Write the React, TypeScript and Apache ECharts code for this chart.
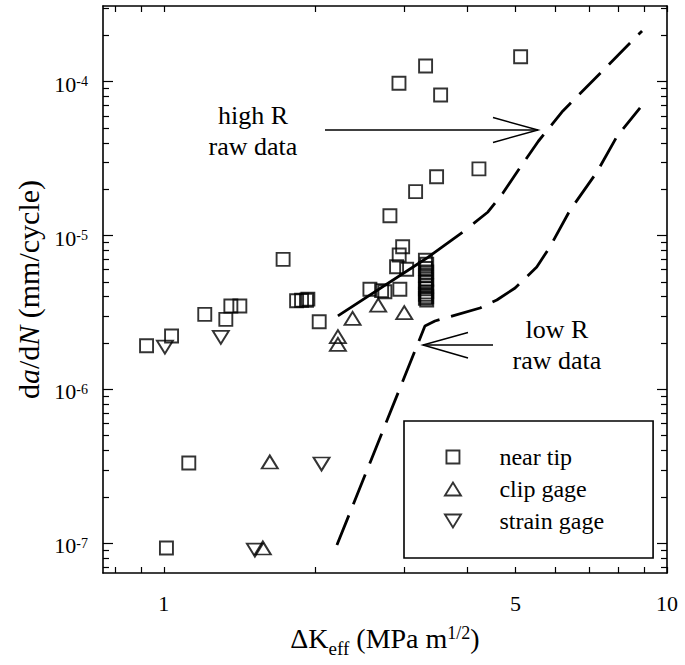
import React, { useEffect, useRef } from "react";
import * as echarts from "echarts";

// ---- data (ΔKeff in MPa m^1/2, da/dN in mm/cycle) ----
const nearTipK = [
  0.924, 1.036, 1.121, 1.012, 1.206, 1.328, 1.359, 1.416, 1.726, 1.836, 1.878, 1.921, 1.933, 2.036,
  2.568, 2.709, 2.75, 2.945, 2.901, 3.038, 2.936, 2.983, 2.814, 3.165, 3.484, 4.229, 2.933, 3.313,
  3.549, 5.118,
  3.31, 3.33, 3.31, 3.33, 3.31, 3.33, 3.31, 3.33, 3.31, 3.33, 3.31, 3.33, 3.31, 3.33,
];
const nearTipRate = [
  1.92e-6, 2.22e-6, 3.32e-7, 9.3e-8, 3.07e-6, 2.85e-6, 3.48e-6, 3.48e-6, 7.0e-6, 3.77e-6, 3.79e-6,
  3.79e-6, 3.86e-6, 2.75e-6, 4.47e-6, 4.38e-6, 4.31e-6, 4.47e-6, 6.27e-6, 6.03e-6, 7.47e-6, 8.46e-6,
  1.345e-5, 1.93e-5, 2.41e-5, 2.71e-5, 9.76e-5, 1.265e-4, 8.19e-5, 1.454e-4,
  6.9e-6, 6.5e-6, 6.1e-6, 5.8e-6, 5.5e-6, 5.2e-6, 4.95e-6, 4.7e-6, 4.5e-6, 4.3e-6, 4.15e-6, 4.0e-6,
  3.9e-6, 3.8e-6,
];
const clipK = [2.218, 2.218, 2.372, 2.667, 3.005, 1.624, 1.573];
const clipRate = [2.2e-6, 1.96e-6, 2.89e-6, 3.53e-6, 3.15e-6, 3.37e-7, 9.3e-8];
const strainK = [1.005, 1.298, 2.058, 1.517];
const strainRate = [1.88e-6, 2.18e-6, 3.27e-7, 9.0e-8];

const highRK = [2.218, 3.333, 3.93, 4.407, 4.72, 5.1, 5.55, 6.21, 8.92];
const highRRate = [3.0e-6, 7.14e-6, 1.054e-5, 1.422e-5, 1.889e-5, 2.75e-5, 4.1e-5, 6.45e-5, 2.136e-4];
const lowRK = [2.208, 3.303, 3.458, 4.25, 4.59, 4.99, 5.51, 5.85, 6.42, 7.26, 7.96, 8.84];
const lowRRate = [
  9.72e-8, 2.58e-6, 2.78e-6, 3.38e-6, 3.81e-6, 4.56e-6, 6.24e-6, 8.42e-6, 1.465e-5, 2.59e-5,
  4.43e-5, 6.75e-5,
];

const xTickLabels = [1, 5, 10];
const xTickValues = [0.8, 0.9, 1, 2, 3, 4, 5, 6, 7, 8, 9, 10];
const yDecades = [-7, -6, -5, -4];
const yMinorMantissas = [2, 3, 4, 5, 6, 7, 8, 9];

const X_MIN = Math.log10(0.757);
const X_MAX = 1;
const Y_MIN = -7.194;
const Y_MAX = -3.508;

const SERIF = "Liberation Serif";

const toPts = (xs: number[], ys: number[]) => xs.map((x, i) => [Math.log10(x), Math.log10(ys[i])]);

const yMinorTicks: number[] = [];
for (let n = -8; n <= -4; n++) {
  for (const m of yMinorMantissas) {
    const v = n + Math.log10(m);
    if (v >= Y_MIN && v <= Y_MAX) yMinorTicks.push(v);
  }
}
const xTicks = xTickValues.map((v) => Math.log10(v));

const square = "path://M0,0 L10,0 L10,10 L0,10 Z";
const upTri = "path://M8,0 L16,13 L0,13 Z";
const downTri = "path://M0,0 L16,0 L8,13 Z";

const markerStyle = { color: "rgba(0,0,0,0)", borderColor: "#000", borderWidth: 1.9 };

function xAxisDef(position: "bottom" | "top", withLabels: boolean) {
  return {
    type: "value",
    position,
    min: X_MIN,
    max: X_MAX,
    splitLine: { show: false },
    axisLine: { show: true, onZero: false, lineStyle: { color: "#000", width: 1.6 } },
    axisTick: {
      show: true,
      inside: true,
      length: 6,
      customValues: xTicks,
      lineStyle: { color: "#000", width: 1.2 },
    },
    axisLabel: withLabels
      ? {
          show: true,
          customValues: xTickLabels.map((v) => Math.log10(v)),
          formatter: (v: number) => `${Math.round(Math.pow(10, v))}`,
          margin: 19,
          fontSize: 22,
          fontFamily: SERIF,
          color: "#000",
        }
      : { show: false },
    ...(withLabels
      ? {
          name: "{b|ΔK}{sub|eff}{b| (MPa m}{sup|1/2}{b|)}",
          nameLocation: "middle",
          nameGap: 51,
          nameTextStyle: {
            color: "#000",
            fontFamily: SERIF,
            fontSize: 28,
            rich: {
              b: { fontFamily: SERIF, fontSize: 28, lineHeight: 28, color: "#000", verticalAlign: "middle" },
              sub: {
                fontFamily: SERIF,
                fontSize: 19,
                lineHeight: 19,
                color: "#000",
                verticalAlign: "middle",
                padding: [20, 0, 0, 0],
              },
              sup: {
                fontFamily: SERIF,
                fontSize: 18,
                lineHeight: 18,
                color: "#000",
                verticalAlign: "middle",
                padding: [0, 0, 10, 0],
              },
            },
          },
        }
      : {}),
  };
}

function yAxisDef(position: "left" | "right", major: boolean, withLabels: boolean) {
  return {
    type: "value",
    position,
    min: Y_MIN,
    max: Y_MAX,
    splitLine: { show: false },
    axisLine: { show: major, onZero: false, lineStyle: { color: "#000", width: 1.6 } },
    axisTick: {
      show: true,
      inside: true,
      length: major ? 10 : 6,
      customValues: major ? yDecades : yMinorTicks,
      lineStyle: { color: "#000", width: 1.2 },
    },
    axisLabel: withLabels
      ? {
          show: true,
          customValues: yDecades,
          formatter: (v: number) => `{b|10}{s|${Math.round(v)}}`,
          margin: 15,
          rich: {
            b: {
              fontFamily: SERIF,
              fontSize: 22,
              lineHeight: 22,
              color: "#000",
              verticalAlign: "middle",
              padding: [5, 0, 0, 0],
            },
            s: { fontFamily: SERIF, fontSize: 14, lineHeight: 14, color: "#000", verticalAlign: "middle" },
          },
        }
      : { show: false },
    ...(withLabels
      ? {
          name: "{t|d}{i|a}{t|/d}{i|N}{t| (mm/cycle)}",
          nameLocation: "middle",
          nameGap: 58,
          nameTextStyle: {
            color: "#000",
            fontFamily: SERIF,
            fontSize: 30,
            rich: {
              t: { fontFamily: SERIF, fontSize: 30, lineHeight: 30, color: "#000", verticalAlign: "middle" },
              i: {
                fontFamily: SERIF,
                fontSize: 30,
                lineHeight: 30,
                fontStyle: "italic",
                color: "#000",
                verticalAlign: "middle",
              },
            },
          },
        }
      : {}),
  };
}

const annText = { fontFamily: SERIF, fontSize: 26, lineHeight: 31, fill: "#000", align: "center", verticalAlign: "middle" };
const arrowStyle = { stroke: "#000", lineWidth: 1.5, fill: "none" };

export default function App() {
  const ref = useRef<HTMLDivElement>(null);
  useEffect(() => {
    const chart = echarts.init(ref.current!, null, { renderer: "svg" });
    const option: any = {
      animation: false,
      backgroundColor: "#fff",
      grid: { left: 103, right: 18, top: 6, bottom: 92, containLabel: false },
      xAxis: [xAxisDef("bottom", true), xAxisDef("top", false)],
      yAxis: [
        yAxisDef("left", true, true),
        yAxisDef("left", false, false),
        yAxisDef("right", true, false),
        yAxisDef("right", false, false),
      ],
      legend: {
        data: ["near tip", "clip gage", "strain gage"],
        orient: "vertical",
        left: 404,
        top: 421,
        padding: [24, 49, 25, 40],
        itemWidth: 83,
        itemHeight: 13,
        itemGap: 8,
        borderColor: "#000",
        borderWidth: 1.6,
        backgroundColor: "#fff",
        selectedMode: false,
        itemStyle: markerStyle,
        textStyle: { fontFamily: SERIF, fontSize: 24, color: "#000", padding: [0, 0, 0, 0] },
      },
      series: [
        {
          name: "high R",
          type: "line",
          data: toPts(highRK, highRRate),
          showSymbol: false,
          silent: true,
          lineStyle: {
            color: "#000",
            width: 2.8,
            type: [150, 14, 30, 12, 30, 12, 30, 12, 30, 12, 30, 12, 30, 12, 30, 12, 30, 12, 30, 12],
          },
          z: 3,
        },
        {
          name: "low R",
          type: "line",
          data: toPts(lowRK, lowRRate),
          showSymbol: false,
          silent: true,
          lineStyle: { color: "#000", width: 2.8, type: [32, 12] },
          z: 3,
        },
        {
          name: "near tip",
          type: "scatter",
          symbol: square,
          symbolSize: 13,
          silent: true,
          itemStyle: markerStyle,
          data: toPts(nearTipK, nearTipRate),
          z: 4,
        },
        {
          name: "clip gage",
          type: "scatter",
          symbol: upTri,
          symbolSize: [16, 13],
          silent: true,
          itemStyle: markerStyle,
          data: toPts(clipK, clipRate),
          z: 4,
        },
        {
          name: "strain gage",
          type: "scatter",
          symbol: downTri,
          symbolSize: [16, 13],
          silent: true,
          itemStyle: markerStyle,
          data: toPts(strainK, strainRate),
          z: 4,
        },
      ],
      graphic: [
        { type: "text", x: 253, y: 131, style: { ...annText, text: "high R\nraw data" } },
        { type: "line", shape: { x1: 325, y1: 130, x2: 538, y2: 130 }, style: arrowStyle },
        {
          type: "polyline",
          shape: { points: [[493, 117.5], [538, 130], [493, 142.5]] },
          style: arrowStyle,
        },
        { type: "text", x: 557, y: 345, style: { ...annText, text: "low R\nraw data" } },
        { type: "line", shape: { x1: 423, y1: 345, x2: 493, y2: 345 }, style: arrowStyle },
        {
          type: "polyline",
          shape: { points: [[468, 332.5], [423, 345], [468, 358]] },
          style: arrowStyle,
        },
      ],
    };
    chart.setOption(option);
    return () => chart.dispose();
  }, []);
  return <div ref={ref} style={{ position: "absolute", left: 0, top: 0, width: 685, height: 665 }} />;
}
